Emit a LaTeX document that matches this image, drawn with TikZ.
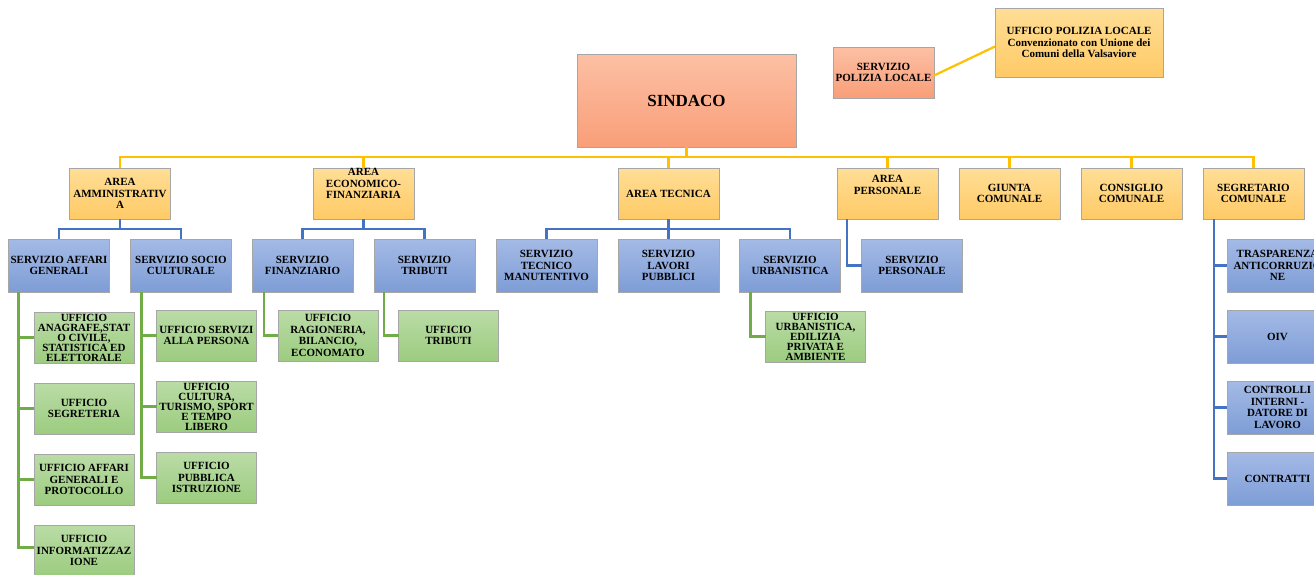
\documentclass[tikz,border=0pt]{standalone}
\usepackage{fontspec}
\setmainfont{Liberation Serif}
\usetikzlibrary{positioning,shadows}

\definecolor{headT}{RGB}{252,192,164}
\definecolor{headB}{RGB}{249,158,120}
\definecolor{areaT}{RGB}{255,222,150}
\definecolor{areaB}{RGB}{255,202,102}
\definecolor{servT}{RGB}{164,186,230}
\definecolor{servB}{RGB}{126,157,214}
\definecolor{uffT}{RGB}{186,220,166}
\definecolor{uffB}{RGB}{156,204,128}
\definecolor{ylw}{RGB}{255,192,0}
\definecolor{blu}{RGB}{68,114,196}
\definecolor{grn}{RGB}{112,173,71}

\begin{document}
\begin{tikzpicture}[
  font=\bfseries\fontsize{11}{11.7}\selectfont,
  box/.style={draw=black!35, line width=0.6pt, align=center, inner sep=0pt, outer sep=0pt,
    drop shadow={shadow xshift=0.6pt, shadow yshift=-1.4pt, fill=black!60, opacity=0.75}},
  head/.style={box, top color=headT, bottom color=headB},
  area/.style={box, top color=areaT, bottom color=areaB, minimum width=101pt, minimum height=51pt},
  serv/.style={box, top color=servT, bottom color=servB, minimum width=101pt, minimum height=53pt},
  uff/.style={box, top color=uffT, bottom color=uffB, minimum width=100pt, minimum height=51pt},
  tight/.style={font=\bfseries\fontsize{11}{10}\selectfont},
  ylink/.style={draw=ylw, line width=2.2pt},
  blink/.style={draw=blu, line width=2.2pt},
  glink/.style={draw=grn, line width=2.2pt}
]
\useasboundingbox (0,0) rectangle (1314pt,-574pt);

\node[head, minimum width=219pt, minimum height=93pt, font=\bfseries\fontsize{17}{19}\selectfont] (sindaco) at (686.5pt,-100.5pt) {SINDACO};
\node[head, minimum width=101pt, minimum height=51pt] (polizia) at (883.5pt,-72.5pt) {SERVIZIO\\POLIZIA LOCALE};
\node[area, minimum width=168pt, minimum height=69pt] (upl) at (1079pt,-42.5pt) {
  UFFICIO POLIZIA LOCALE\\
  Convenzionato con Unione dei\\
  Comuni della Valsaviore
};

\node[area, below left=21pt and 406.5pt of sindaco] (amm) {AREA\\AMMINISTRATIV\\A};
\node[area, right=142.5pt of amm] (eco) {AREA\\ECONOMICO-\\FINANZIARIA\\[8pt]};
\node[area, right=204pt of eco] (tec) {AREA TECNICA};
\node[area, right=118pt of tec] (pers) {AREA\\PERSONALE\\[6pt]};
\node[area, right=21pt of pers] (giunta) {GIUNTA\\COMUNALE};
\node[area, right=21pt of giunta] (consiglio) {CONSIGLIO\\COMUNALE};
\node[area, right=21pt of consiglio] (segr) {SEGRETARIO\\COMUNALE};

\node[serv, below=20pt of amm, xshift=-61pt] (affari) {SERVIZIO AFFARI\\GENERALI};
\node[serv, below=20pt of amm, xshift=61pt] (socio) {SERVIZIO SOCIO\\CULTURALE};
\node[serv, below=20pt of eco, xshift=-61pt] (fin) {SERVIZIO\\FINANZIARIO};
\node[serv, below=20pt of eco, xshift=61pt] (tributi) {SERVIZIO\\TRIBUTI};
\node[serv, below=20pt of tec, xshift=-122pt] (manut) {SERVIZIO\\TECNICO\\MANUTENTIVO};
\node[serv, below=20pt of tec] (lavori) {SERVIZIO\\LAVORI\\PUBBLICI};
\node[serv, below=20pt of tec, xshift=121.5pt] (urban) {SERVIZIO\\URBANISTICA};
\node[serv, below=20pt of pers, xshift=24.5pt] (servpers) {SERVIZIO\\PERSONALE};

\node[serv, below=20pt of segr, xshift=24pt] (trasp) {TRASPARENZA\\ANTICORRUZIO\\NE};
\node[serv, below=18pt of trasp] (oiv) {OIV};
\node[serv, below=18pt of oiv] (controlli) {CONTROLLI\\INTERNI -\\DATORE DI\\LAVORO};
\node[serv, below=18pt of controlli] (contratti) {CONTRATTI};

\node[uff, tight, below=20pt of affari, xshift=25pt] (anagrafe) {UFFICIO\\ANAGRAFE,STAT\\O CIVILE,\\STATISTICA ED\\ELETTORALE};
\node[uff, below=20pt of anagrafe] (segreteria) {UFFICIO\\SEGRETERIA};
\node[uff, below=20pt of segreteria] (protocollo) {UFFICIO AFFARI\\GENERALI E\\PROTOCOLLO};
\node[uff, below=20pt of protocollo] (informatica) {UFFICIO\\INFORMATIZZAZ\\IONE};

\node[uff, below=18pt of socio, xshift=25.5pt] (persona) {UFFICIO SERVIZI\\ALLA PERSONA};
\node[uff, tight, below=20pt of persona] (cultura) {UFFICIO\\CULTURA,\\TURISMO, SPORT\\E TEMPO\\LIBERO};
\node[uff, below=20pt of cultura] (istruzione) {UFFICIO\\PUBBLICA\\ISTRUZIONE};

\node[uff, below=18pt of fin, xshift=25.5pt] (ragioneria) {UFFICIO\\RAGIONERIA,\\BILANCIO,\\ECONOMATO};
\node[uff, below=18pt of tributi, xshift=24pt] (ufftributi) {UFFICIO\\TRIBUTI};
\node[uff, tight, below=19pt of urban, xshift=25.5pt] (uffurban) {UFFICIO\\URBANISTICA,\\EDILIZIA\\PRIVATA E\\AMBIENTE};

\draw[ylink] ([yshift=-3pt]polizia.east) -- ([yshift=-4pt]upl.west);
\draw[ylink] (sindaco.south) -- ++(0,-10pt) -| (amm.north);
\draw[ylink] (sindaco.south) -- ++(0,-10pt) -| (eco.north);
\draw[ylink] (sindaco.south) -- ++(0,-10pt) -| (tec.north);
\draw[ylink] (sindaco.south) -- ++(0,-10pt) -| (pers.north);
\draw[ylink] (sindaco.south) -- ++(0,-10pt) -| (giunta.north);
\draw[ylink] (sindaco.south) -- ++(0,-10pt) -| (consiglio.north);
\draw[ylink] (sindaco.south) -- ++(0,-10pt) -| (segr.north);

\draw[blink] (amm.south) -- ++(0,-10pt) -| (affari.north);
\draw[blink] (amm.south) -- ++(0,-10pt) -| (socio.north);
\draw[blink] (eco.south) -- ++(0,-10pt) -| (fin.north);
\draw[blink] (eco.south) -- ++(0,-10pt) -| (tributi.north);
\draw[blink] (tec.south) -- ++(0,-10pt) -| (manut.north);
\draw[blink] (tec.south) -- (lavori.north);
\draw[blink] (tec.south) -- ++(0,-10pt) -| (urban.north);
\draw[blink] ([xshift=10pt]pers.south west) |- (servpers.west);
\draw[blink] ([xshift=11pt]segr.south west) |- (trasp.west);
\draw[blink] ([xshift=11pt]segr.south west) |- (oiv.west);
\draw[blink] ([xshift=11pt]segr.south west) |- (controlli.west);
\draw[blink] ([xshift=11pt]segr.south west) |- (contratti.west);

\draw[glink] ([xshift=10pt]affari.south west) |- (anagrafe.west);
\draw[glink] ([xshift=10pt]affari.south west) |- (segreteria.west);
\draw[glink] ([xshift=10pt]affari.south west) |- (protocollo.west);
\draw[glink] ([xshift=10pt]affari.south west) |- ([yshift=3pt]informatica.west);
\draw[glink] ([xshift=11pt]socio.south west) |- (persona.west);
\draw[glink] ([xshift=11pt]socio.south west) |- (cultura.west);
\draw[glink] ([xshift=11pt]socio.south west) |- (istruzione.west);
\draw[glink] ([xshift=12pt]fin.south west) |- (ragioneria.west);
\draw[glink] ([xshift=10pt]tributi.south west) |- (ufftributi.west);
\draw[glink] ([xshift=11pt]urban.south west) |- (uffurban.west);

\end{tikzpicture}
\end{document}
